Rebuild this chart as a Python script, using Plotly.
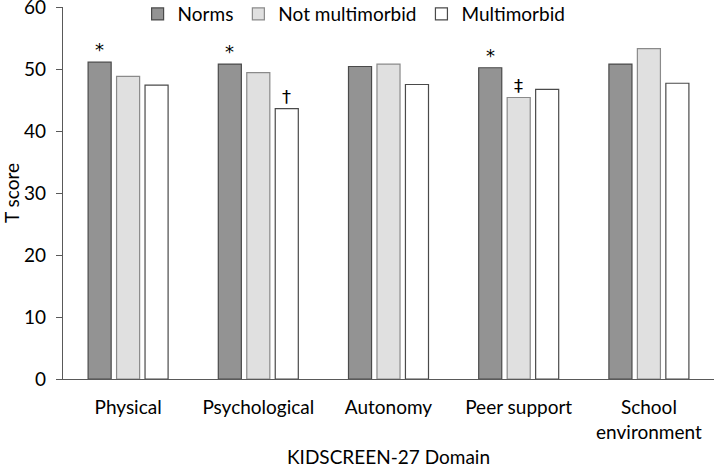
import plotly.graph_objects as go

categories = ["Physical", "Psychological", "Autonomy", "Peer support", "School<br>environment"]
norms = [51.1, 50.8, 50.4, 50.2, 50.8]
not_multimorbid = [48.8, 49.4, 50.8, 45.4, 53.3]
multimorbid = [47.4, 43.6, 47.5, 46.7, 47.7]

# significance markers: (category index, series index, symbol)
markers = [(0, 0, "*"), (1, 0, "*"), (3, 0, "*"), (1, 2, "†"), (3, 1, "‡")]

FONT = "Lato"
FS = 19
series = [
    ("Norms", norms, "#939393", "#4a4a4a"),
    ("Not multimorbid", not_multimorbid, "#e0e0e0", "#8a8a8a"),
    ("Multimorbid", multimorbid, "#ffffff", "#4a4a4a"),
]

fig = go.Figure()
for name, vals, fill, line in series:
    fig.add_trace(go.Bar(
        x=categories, y=vals, name=name,
        marker=dict(color=fill, line=dict(color=line, width=1.2)),
    ))

all_vals = [norms, not_multimorbid, multimorbid]
offsets = [-28.5, 0, 28.5]
for ci, si, sym in markers:
    fig.add_annotation(
        x=categories[ci], y=all_vals[si][ci], text=sym, showarrow=False,
        xshift=offsets[si], yanchor="bottom", yshift=0,
        font=dict(family="DejaVu Sans", size=18, color="#000000"),
    )

fig.update_layout(
    width=714, height=468,
    margin=dict(l=63, r=0, t=7, b=89, autoexpand=False),
    paper_bgcolor="white", plot_bgcolor="white",
    barmode="group", bargap=0.344, bargroupgap=0.19,
    font=dict(family=FONT, size=FS, color="#000000"),
    legend=dict(
        orientation="h", x=0.1146, xanchor="left", y=0.981, yanchor="middle",
        font=dict(family=FONT, size=FS), bgcolor="rgba(0,0,0,0)",
        traceorder="normal",
    ),
    xaxis=dict(
        showline=True, linecolor="#595959", linewidth=1.3,
        ticks="", ticklabelstandoff=11,
        title=dict(text="KIDSCREEN-27 Domain", font=dict(family=FONT, size=FS), standoff=12),
        showgrid=False,
    ),
    yaxis=dict(
        range=[0, 60], dtick=10, showline=True, linecolor="#595959", linewidth=1.3,
        ticks="outside", ticklen=6, tickcolor="#595959", ticklabelstandoff=6,
        ticklabeloverflow="allow",
        title=dict(text="T score", font=dict(family=FONT, size=FS), standoff=8),
        showgrid=False, zeroline=False,
    ),
)

fig.write_html("out.html", config={"displayModeBar": False},
               post_script="document.body.style.margin='0';")
